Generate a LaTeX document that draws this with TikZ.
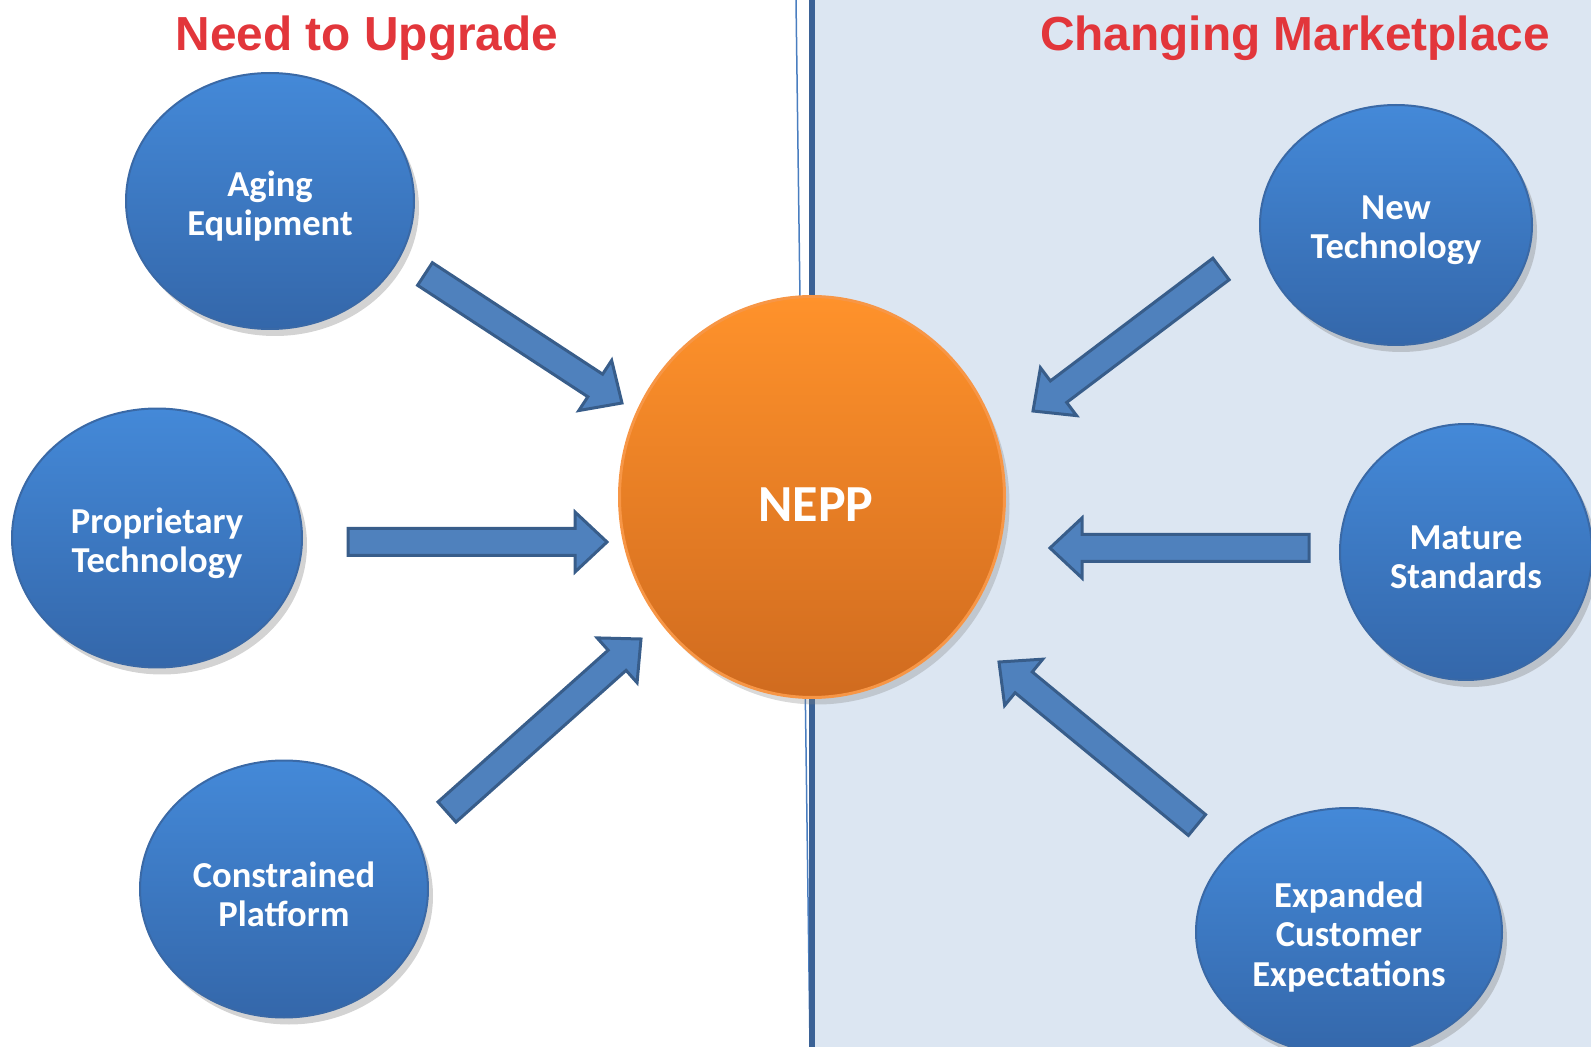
\documentclass[tikz,border=0pt]{standalone}
\usepackage{fontspec}
\setmainfont{Carlito}
\newfontfamily\titlefont{Liberation Sans}
\usepackage{tikz}
\usetikzlibrary{calc,shapes.geometric,shadows}
\definecolor{bgblue}{HTML}{DCE6F2}
\definecolor{lineblue}{HTML}{3B6296}
\definecolor{thinblue}{HTML}{4A7EC0}
\definecolor{bubbletop}{HTML}{4489D8}
\definecolor{bubblebottom}{HTML}{3467AA}
\definecolor{bubbleedge}{HTML}{3A69A6}
\definecolor{arrowfill}{HTML}{4F81BD}
\definecolor{arrowdraw}{HTML}{385D8A}
\definecolor{hubtop}{HTML}{FF922B}
\definecolor{hubbottom}{HTML}{D06B1F}
\definecolor{hubdraw}{HTML}{F79646}
\definecolor{titlered}{HTML}{E2363B}

% block arrow from #1 to #2
\newcommand{\shaftw}{1.35mm}
\newcommand{\headw}{3.0mm}
\newcommand{\headl}{3.2mm}
\newcommand{\blockarrow}[2]{%
  \draw[blockarrow]
    ($(#1)!\shaftw!90:(#2)$)
    -- ($($(#2)!\headl!(#1)$)!\shaftw!-90:(#1)$)
    -- ($($(#2)!\headl!(#1)$)!\headw!-90:(#1)$)
    -- (#2)
    -- ($($(#2)!\headl!(#1)$)!\headw!90:(#1)$)
    -- ($($(#2)!\headl!(#1)$)!\shaftw!90:(#1)$)
    -- ($(#1)!\shaftw!-90:(#2)$)
    -- cycle;}

\begin{document}
\begin{tikzpicture}[x=0.1mm, y=-0.1mm,
    bubbletext/.style={text=white, font=\fontsize{10.4}{11.2}\selectfont\bfseries, align=center, inner sep=0pt, yshift=-0.5mm},
    bubble/.style={ellipse, draw=bubbleedge, line width=0.2mm, top color=bubbletop, bottom color=bubblebottom,
      inner sep=0pt, label={[bubbletext]center:#1},
      drop shadow={shadow xshift=0.5mm, shadow yshift=-0.7mm, opacity=0.35}},
    hub/.style={ellipse, draw=hubdraw, line width=0.3mm, top color=hubtop, bottom color=hubbottom, inner sep=0pt,
      drop shadow={shadow xshift=0.5mm, shadow yshift=-0.7mm, opacity=0.3}},
    heading/.style={font=\titlefont\fontsize{13.6}{15}\selectfont\bfseries, text=titlered, inner sep=0pt},
    blockarrow/.style={fill=arrowfill, draw=arrowdraw, line width=0.3mm, line join=miter}]
    \useasboundingbox (0,0) rectangle (1591,1047);

    % Backgrounds and divider
    \fill[bgblue] (812,0) rectangle (1591,1047);
    \draw[thinblue, line width=0.15mm] (796,0) -- (810,1047);
    \draw[lineblue, line width=0.6mm] (812,0) -- (812,1047);

    % Headings
    \node[heading] (upgrade) at (367,38) {Need to Upgrade};
    \node[heading] (market) at (1295,38) {Changing Marketplace};

    % Centre
    \node[hub, minimum width=38.5mm, minimum height=40.1mm] (nepp) at (812,497) {};
    \node[text=white, font=\fontsize{14.8}{16}\selectfont\bfseries] (neppl) at (816,505) {NEPP};

    % Left side
    \node[bubble={Aging\\Equipment}, minimum width=28.8mm, minimum height=25.6mm] (aging) at (270,201) {};
    \node[bubble={Proprietary\\Technology}, minimum width=29.0mm, minimum height=25.9mm] (propr) at (157,538) {};
    \node[bubble={Constrained\\Platform}, minimum width=28.8mm, minimum height=25.7mm] (constr) at (284,889) {};

    % Right side
    \node[bubble={New\\Technology}, minimum width=27.2mm, minimum height=24.0mm] (newtech) at (1396,225) {};
    \node[bubble={Mature\\Standards}, minimum width=25.2mm, minimum height=25.6mm] (mature) at (1466,552) {};
    \node[bubble={Expanded\\Customer\\Expectations}, minimum width=30.6mm, minimum height=24.8mm] (expand) at (1349,932) {};

    % Arrow ends
    \coordinate (a1s) at (425,274);  \coordinate (a1e) at (622,403);
    \coordinate (a2s) at (348,542);  \coordinate (a2e) at (607,542);
    \coordinate (a3s) at (447,812);  \coordinate (a3e) at (641,639);
    \coordinate (a4s) at (1221,269); \coordinate (a4e) at (1033,411);
    \coordinate (a5s) at (1309,548); \coordinate (a5e) at (1050,548);
    \coordinate (a6s) at (1197,825); \coordinate (a6e) at (999,662);

    % Arrows
    \blockarrow{a1s}{a1e}
    \blockarrow{a2s}{a2e}
    \blockarrow{a3s}{a3e}
    \blockarrow{a4s}{a4e}
    \blockarrow{a5s}{a5e}
    \blockarrow{a6s}{a6e}
\end{tikzpicture}
\end{document}
